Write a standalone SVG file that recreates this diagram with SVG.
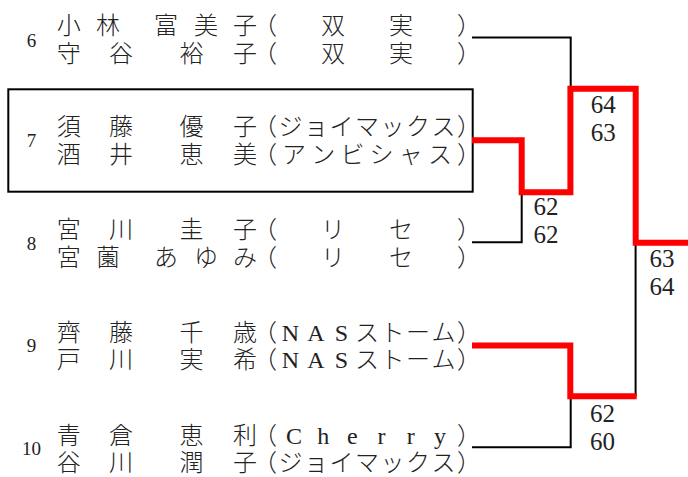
<svg xmlns="http://www.w3.org/2000/svg" width="688" height="477" viewBox="0 0 688 477">
<style>
.t{font-family:"Liberation Serif","Noto Sans CJK JP",serif;font-size:24px;fill:#222;text-anchor:middle;font-weight:300}
.n{font-family:"Liberation Serif",serif;font-size:19px;fill:#222;text-anchor:middle}
.s{font-family:"Liberation Serif",serif;font-size:25px;fill:#222;text-anchor:middle}
.k{fill:none;stroke:#000;stroke-width:2}
.r{fill:none;stroke:#ff0000;stroke-width:6;stroke-linejoin:miter}
</style>
<rect width="688" height="477" fill="#fff"/>
<g id="team6">
<text class="n" x="31.5" y="47">6</text>
<text class="t" x="68.7 108 166 206 245 265 333 401 469" y="34">小林富美子（双実）</text>
<text class="t" x="68.7 121 191.5 245 265 333 401 469" y="62">守谷裕子（双実）</text>
</g>
<g id="team7">
<rect class="k" x="8.3" y="89.3" width="464.4" height="102.4"/>
<text class="n" x="31.5" y="147">7</text>
<text class="t" x="68.7 121 191.5 245 265 290.5 316 341.5 367 392.5 418 443.5 469" y="135">須藤優子（ジョイマックス）</text>
<text class="t" x="68.7 121 191.5 245 265 294.1 323.3 352.4 381.6 410.7 439.9 469" y="163">酒井恵美（アンビシャス）</text>
</g>
<g id="team8">
<text class="n" x="31.5" y="250">8</text>
<text class="t" x="68.7 121 191.5 245 265 333 401 469" y="237.5">宮川圭子（リセ）</text>
<text class="t" x="68.7 108 166 206 245 265 333 401 469" y="265.5">宮薗あゆみ（リセ）</text>
</g>
<g id="team9">
<text class="n" x="31.5" y="351.7">9</text>
<text class="t" x="68.7 121 191.5 245 265 290.5 316 341.5 367 392.5 418 443.5 469" y="340.5">齊藤千歳（NASストーム）</text>
<text class="t" x="68.7 121 191.5 245 265 290.5 316 341.5 367 392.5 418 443.5 469" y="368">戸川実希（NASストーム）</text>
</g>
<g id="team10">
<text class="n" x="31.5" y="455">10</text>
<text class="t" x="68.7 121 191.5 245 265 294.1 323.3 352.4 381.6 410.7 439.9 469" y="443.5">青倉恵利（Cherry）</text>
<text class="t" x="68.7 121 191.5 245 265 290.5 316 341.5 367 392.5 418 443.5 469" y="471">谷川潤子（ジョイマックス）</text>
</g>
<g id="connectors">
<path class="k" d="M472 37.5H570.7V89"/>
<path class="k" d="M472 242.3H521.7V192"/>
<path class="k" d="M472 447.3H570.7V396"/>
<path class="k" d="M635.6 243V396.3"/>
<path class="r" d="M472 140.3H521.7V192.2H570.4V88.8H635.7V242.8H688"/>
<path class="r" d="M472 345.5H570.3V396.3H636.7"/>
</g>
<g id="scores">
<text class="s" x="603.3" y="113">64</text>
<text class="s" x="603.3" y="141">63</text>
<text class="s" x="546" y="215">62</text>
<text class="s" x="546" y="243">62</text>
<text class="s" x="662" y="267">63</text>
<text class="s" x="662" y="295">64</text>
<text class="s" x="602.5" y="421.5">62</text>
<text class="s" x="602.5" y="449.5">60</text>
</g>
</svg>
